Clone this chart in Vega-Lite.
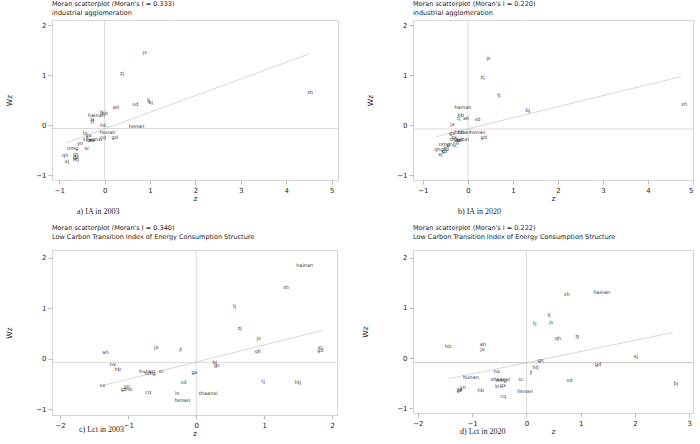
{
  "$schema": "https://vega.github.io/schema/vega-lite/v6.json",
  "background": "white",
  "padding": {"left": 5, "top": 0, "right": 2, "bottom": 2},
  "config": {
    "view": {"stroke": "#d6d6d6", "strokeWidth": 1},
    "axis": {"domain": false, "grid": false, "tickColor": "#bbbbbb", "tickSize": 4, "labelFont": "DejaVu Sans", "labelFontSize": 7, "labelColor": "#222222", "labelPadding": 2, "titleFont": "DejaVu Sans", "titleFontSize": 7.5, "titleFontWeight": "normal", "titleColor": "#222222"},
    "axisY": {"titlePadding": 22},
    "axisX": {"titlePadding": 1},
    "title": {"anchor": "start", "frame": "group", "font": "DejaVu Sans", "fontSize": 6.5, "fontWeight": "normal", "color": "#222222", "subtitleFont": "DejaVu Sans", "subtitleFontSize": 6.5, "subtitleColor": "#222222", "subtitlePadding": 0, "offset": 3},
    "concat": {"spacing": 10}
  },
  "datasets": {
    "means": [
      {"panel": "a", "zbar": 0, "wzbar": -0.07},
      {"panel": "b", "zbar": 0, "wzbar": -0.08},
      {"panel": "c", "zbar": 0, "wzbar": -0.07},
      {"panel": "d", "zbar": 0, "wzbar": -0.09}
    ],
    "fits": [
      {"panel": "a", "z": -0.85, "wz": -0.36}, {"panel": "a", "z": 4.5, "wz": 1.42},
      {"panel": "b", "z": -0.70, "wz": -0.23}, {"panel": "b", "z": 4.74, "wz": 0.97},
      {"panel": "c", "z": -1.35, "wz": -0.52}, {"panel": "c", "z": 1.85, "wz": 0.56},
      {"panel": "d", "z": -1.43, "wz": -0.41}, {"panel": "d", "z": 2.7, "wz": 0.51}
    ],
    "ia2003": [
      {"p": "js", "z": 0.84, "wz": 1.46}, {"p": "zj", "z": 0.34, "wz": 1.05}, {"p": "sh", "z": 4.46, "wz": 0.66},
      {"p": "fj", "z": 0.93, "wz": 0.51}, {"p": "bj", "z": 0.96, "wz": 0.47}, {"p": "sd", "z": 0.61, "wz": 0.42},
      {"p": "ah", "z": 0.18, "wz": 0.36}, {"p": "tj", "z": -0.10, "wz": 0.27}, {"p": "hb", "z": -0.07, "wz": 0.25},
      {"p": "hainan", "z": -0.37, "wz": 0.20}, {"p": "jx", "z": -0.32, "wz": 0.13}, {"p": "jl", "z": -0.30, "wz": 0.09},
      {"p": "hb", "z": -0.10, "wz": 0.01}, {"p": "henan", "z": 0.53, "wz": -0.01}, {"p": "hunan", "z": -0.11, "wz": -0.13},
      {"p": "cq", "z": -0.10, "wz": -0.24}, {"p": "gd", "z": 0.15, "wz": -0.23}, {"p": "ln", "z": -0.48, "wz": -0.15},
      {"p": "gx", "z": -0.42, "wz": -0.19}, {"p": "shaanxi", "z": -0.48, "wz": -0.28}, {"p": "sx", "z": -0.40, "wz": -0.29},
      {"p": "nx", "z": -0.35, "wz": -0.29}, {"p": "yn", "z": -0.61, "wz": -0.35}, {"p": "sc", "z": -0.45, "wz": -0.46},
      {"p": "nmg", "z": -0.83, "wz": -0.46}, {"p": "qh", "z": -0.94, "wz": -0.60}, {"p": "xj", "z": -0.88, "wz": -0.72},
      {"p": "gs", "z": -0.70, "wz": -0.58}, {"p": "gz", "z": -0.70, "wz": -0.63}, {"p": "hlj", "z": -0.70, "wz": -0.67}
    ],
    "ia2020": [
      {"p": "js", "z": 0.41, "wz": 1.34}, {"p": "zj", "z": 0.28, "wz": 0.96}, {"p": "fj", "z": 0.65, "wz": 0.61},
      {"p": "bj", "z": 1.28, "wz": 0.31}, {"p": "sh", "z": 4.74, "wz": 0.43}, {"p": "hainan", "z": -0.30, "wz": 0.36},
      {"p": "hb", "z": -0.23, "wz": 0.21}, {"p": "tj", "z": -0.24, "wz": 0.15}, {"p": "ah", "z": -0.11, "wz": 0.14},
      {"p": "sd", "z": 0.15, "wz": 0.12}, {"p": "jx", "z": -0.39, "wz": 0.02}, {"p": "henan", "z": 0.04, "wz": -0.13},
      {"p": "gd", "z": 0.28, "wz": -0.23}, {"p": "gx", "z": -0.42, "wz": -0.15}, {"p": "hunan", "z": -0.30, "wz": -0.14},
      {"p": "hb", "z": -0.22, "wz": -0.13}, {"p": "sx", "z": -0.37, "wz": -0.23}, {"p": "shaanxi", "z": -0.41, "wz": -0.28},
      {"p": "ln", "z": -0.26, "wz": -0.30}, {"p": "jl", "z": -0.16, "wz": -0.28}, {"p": "nx", "z": -0.30, "wz": -0.30},
      {"p": "cq", "z": -0.33, "wz": -0.33}, {"p": "nmg", "z": -0.65, "wz": -0.38}, {"p": "yn", "z": -0.48, "wz": -0.38},
      {"p": "sc", "z": -0.35, "wz": -0.39}, {"p": "qh", "z": -0.75, "wz": -0.48}, {"p": "gs", "z": -0.61, "wz": -0.48},
      {"p": "gz", "z": -0.58, "wz": -0.51}, {"p": "xj", "z": -0.66, "wz": -0.58}, {"p": "hlj", "z": -0.55, "wz": -0.46}
    ],
    "lct2003": [
      {"p": "hainan", "z": 1.47, "wz": 1.85}, {"p": "sh", "z": 1.28, "wz": 1.42}, {"p": "fj", "z": 0.54, "wz": 1.05},
      {"p": "zj", "z": 0.61, "wz": 0.61}, {"p": "js", "z": 0.89, "wz": 0.42}, {"p": "qh", "z": 0.86, "wz": 0.16},
      {"p": "xj", "z": 1.79, "wz": 0.23}, {"p": "gd", "z": 1.78, "wz": 0.17}, {"p": "ah", "z": -1.38, "wz": 0.13},
      {"p": "jx", "z": -0.62, "wz": 0.23}, {"p": "jl", "z": -0.25, "wz": 0.19}, {"p": "bj", "z": 0.24, "wz": -0.07},
      {"p": "gs", "z": 0.26, "wz": -0.13}, {"p": "nx", "z": -1.27, "wz": -0.11}, {"p": "hb", "z": -1.20, "wz": -0.21},
      {"p": "hunan", "z": -0.84, "wz": -0.24}, {"p": "nmg", "z": -0.76, "wz": -0.28}, {"p": "sc", "z": -0.55, "wz": -0.25},
      {"p": "gx", "z": -0.07, "wz": -0.26}, {"p": "sd", "z": -0.23, "wz": -0.45}, {"p": "tj", "z": 0.96, "wz": -0.44},
      {"p": "hlj", "z": 1.45, "wz": -0.45}, {"p": "sx", "z": -1.42, "wz": -0.52}, {"p": "yn", "z": -1.07, "wz": -0.53},
      {"p": "gz", "z": -1.11, "wz": -0.60}, {"p": "hb", "z": -1.03, "wz": -0.60}, {"p": "cq", "z": -0.75, "wz": -0.65},
      {"p": "ln", "z": -0.31, "wz": -0.68}, {"p": "shaanxi", "z": 0.03, "wz": -0.68}, {"p": "henan", "z": -0.32, "wz": -0.82}
    ],
    "lct2020": [
      {"p": "sh", "z": 0.69, "wz": 1.27}, {"p": "hainan", "z": 1.23, "wz": 1.32}, {"p": "fj", "z": 0.39, "wz": 0.86},
      {"p": "tj", "z": 0.12, "wz": 0.69}, {"p": "js", "z": 0.42, "wz": 0.71}, {"p": "qh", "z": 0.52, "wz": 0.40},
      {"p": "zj", "z": 0.90, "wz": 0.44}, {"p": "xj", "z": 1.98, "wz": 0.04}, {"p": "gd", "z": 1.26, "wz": -0.11},
      {"p": "bj", "z": 2.71, "wz": -0.50}, {"p": "hb", "z": -1.50, "wz": 0.25}, {"p": "ah", "z": -0.86, "wz": 0.28},
      {"p": "jx", "z": -0.85, "wz": 0.19}, {"p": "gs", "z": 0.21, "wz": -0.03}, {"p": "hlj", "z": 0.11, "wz": -0.17},
      {"p": "jl", "z": 0.06, "wz": -0.28}, {"p": "nx", "z": -0.60, "wz": -0.26}, {"p": "hunan", "z": -1.17, "wz": -0.38},
      {"p": "shaanxi", "z": -0.66, "wz": -0.42}, {"p": "nmg", "z": -0.57, "wz": -0.44}, {"p": "sc", "z": -0.15, "wz": -0.42},
      {"p": "sd", "z": 0.74, "wz": -0.44}, {"p": "ln", "z": -0.58, "wz": -0.56}, {"p": "gx", "z": -0.49, "wz": -0.53},
      {"p": "yn", "z": -1.23, "wz": -0.57}, {"p": "gz", "z": -1.29, "wz": -0.63}, {"p": "sx", "z": -1.28, "wz": -0.61},
      {"p": "hb", "z": -0.90, "wz": -0.63}, {"p": "henan", "z": -0.17, "wz": -0.66}, {"p": "cq", "z": -0.48, "wz": -0.76}
    ]
  },
  "columns": 2,
  "spacing": {"row": 8, "column": 22},
  "concat": [
    {
      "title": {"text": "a) IA in 2003", "orient": "bottom", "anchor": "start", "font": "Liberation Serif", "fontSize": 8, "offset": 6, "dx": 25},
      "vconcat": [{
        "width": 286, "height": 160,
        "title": {"text": "Moran scatterplot (Moran's I = 0.333)", "subtitle": "industrial agglomeration"},
        "layer": [
          {"data": {"name": "means"}, "transform": [{"filter": "datum.panel == 'a'"}], "mark": {"type": "rule", "color": "#d0d0d0", "strokeWidth": 0.8},
           "encoding": {"x": {"field": "zbar", "type": "quantitative", "title": "z", "scale": {"domain": [-1.16, 5.14], "nice": false, "zero": false}, "axis": {"values": [-1, 0, 1, 2, 3, 4, 5]}}}},
          {"data": {"name": "means"}, "transform": [{"filter": "datum.panel == 'a'"}], "mark": {"type": "rule", "color": "#d0d0d0", "strokeWidth": 0.8},
           "encoding": {"y": {"field": "wzbar", "type": "quantitative", "title": "Wz", "scale": {"domain": [-1.1, 2.1], "nice": false, "zero": false}, "axis": {"values": [-1, 0, 1, 2]}}}},
          {"data": {"name": "fits"}, "transform": [{"filter": "datum.panel == 'a'"}], "mark": {"type": "line", "color": "#c4c4c4", "strokeWidth": 0.7},
           "encoding": {"x": {"field": "z", "type": "quantitative", "title": "z", "scale": {"domain": [-1.16, 5.14], "nice": false, "zero": false}, "axis": {"values": [-1, 0, 1, 2, 3, 4, 5]}},
                        "y": {"field": "wz", "type": "quantitative", "title": "Wz", "scale": {"domain": [-1.1, 2.1], "nice": false, "zero": false}, "axis": {"values": [-1, 0, 1, 2]}}}},
          {"data": {"name": "ia2003"}, "mark": {"type": "text", "align": "left", "baseline": "middle", "font": "DejaVu Sans", "fontSize": 5, "color": "#333333"},
           "encoding": {"x": {"field": "z", "type": "quantitative", "title": "z", "scale": {"domain": [-1.16, 5.14], "nice": false, "zero": false}, "axis": {"values": [-1, 0, 1, 2, 3, 4, 5]}},
                        "y": {"field": "wz", "type": "quantitative", "title": "Wz", "scale": {"domain": [-1.1, 2.1], "nice": false, "zero": false}, "axis": {"values": [-1, 0, 1, 2]}},
                        "text": {"field": "p"}}}
        ]
      }]
    },
    {
      "title": {"text": "b) IA in 2020", "orient": "bottom", "anchor": "start", "font": "Liberation Serif", "fontSize": 8, "offset": 6, "dx": 45},
      "vconcat": [{
        "width": 280, "height": 160,
        "title": {"text": "Moran scatterplot (Moran's I = 0.220)", "subtitle": "industrial agglomeration"},
        "layer": [
          {"data": {"name": "means"}, "transform": [{"filter": "datum.panel == 'b'"}], "mark": {"type": "rule", "color": "#d0d0d0", "strokeWidth": 0.8},
           "encoding": {"x": {"field": "zbar", "type": "quantitative", "title": "z", "scale": {"domain": [-1.22, 5.0], "nice": false, "zero": false}, "axis": {"values": [-1, 0, 1, 2, 3, 4, 5]}}}},
          {"data": {"name": "means"}, "transform": [{"filter": "datum.panel == 'b'"}], "mark": {"type": "rule", "color": "#d0d0d0", "strokeWidth": 0.8},
           "encoding": {"y": {"field": "wzbar", "type": "quantitative", "title": "Wz", "scale": {"domain": [-1.1, 2.1], "nice": false, "zero": false}, "axis": {"values": [-1, 0, 1, 2]}}}},
          {"data": {"name": "fits"}, "transform": [{"filter": "datum.panel == 'b'"}], "mark": {"type": "line", "color": "#c4c4c4", "strokeWidth": 0.7},
           "encoding": {"x": {"field": "z", "type": "quantitative", "title": "z", "scale": {"domain": [-1.22, 5.0], "nice": false, "zero": false}, "axis": {"values": [-1, 0, 1, 2, 3, 4, 5]}},
                        "y": {"field": "wz", "type": "quantitative", "title": "Wz", "scale": {"domain": [-1.1, 2.1], "nice": false, "zero": false}, "axis": {"values": [-1, 0, 1, 2]}}}},
          {"data": {"name": "ia2020"}, "mark": {"type": "text", "align": "left", "baseline": "middle", "font": "DejaVu Sans", "fontSize": 5, "color": "#333333"},
           "encoding": {"x": {"field": "z", "type": "quantitative", "title": "z", "scale": {"domain": [-1.22, 5.0], "nice": false, "zero": false}, "axis": {"values": [-1, 0, 1, 2, 3, 4, 5]}},
                        "y": {"field": "wz", "type": "quantitative", "title": "Wz", "scale": {"domain": [-1.1, 2.1], "nice": false, "zero": false}, "axis": {"values": [-1, 0, 1, 2]}},
                        "text": {"field": "p"}}}
        ]
      }]
    },
    {
      "title": {"text": "c) Lct in 2003", "orient": "bottom", "anchor": "start", "font": "Liberation Serif", "fontSize": 8, "offset": -11, "dx": 27},
      "vconcat": [{
        "width": 285, "height": 165,
        "title": {"text": "Moran scatterplot (Moran's I = 0.340)", "subtitle": "Low Carbon Transition Index of Energy Consumption Structure", "offset": 9},
        "layer": [
          {"data": {"name": "means"}, "transform": [{"filter": "datum.panel == 'c'"}], "mark": {"type": "rule", "color": "#d0d0d0", "strokeWidth": 0.8},
           "encoding": {"x": {"field": "zbar", "type": "quantitative", "title": "z", "scale": {"domain": [-2.12, 2.07], "nice": false, "zero": false}, "axis": {"values": [-2, -1, 0, 1, 2]}}}},
          {"data": {"name": "means"}, "transform": [{"filter": "datum.panel == 'c'"}], "mark": {"type": "rule", "color": "#d0d0d0", "strokeWidth": 0.8},
           "encoding": {"y": {"field": "wzbar", "type": "quantitative", "title": "Wz", "scale": {"domain": [-1.11, 2.15], "nice": false, "zero": false}, "axis": {"values": [-1, 0, 1, 2]}}}},
          {"data": {"name": "fits"}, "transform": [{"filter": "datum.panel == 'c'"}], "mark": {"type": "line", "color": "#c4c4c4", "strokeWidth": 0.7},
           "encoding": {"x": {"field": "z", "type": "quantitative", "title": "z", "scale": {"domain": [-2.12, 2.07], "nice": false, "zero": false}, "axis": {"values": [-2, -1, 0, 1, 2]}},
                        "y": {"field": "wz", "type": "quantitative", "title": "Wz", "scale": {"domain": [-1.11, 2.15], "nice": false, "zero": false}, "axis": {"values": [-1, 0, 1, 2]}}}},
          {"data": {"name": "lct2003"}, "mark": {"type": "text", "align": "left", "baseline": "middle", "font": "DejaVu Sans", "fontSize": 5, "color": "#333333"},
           "encoding": {"x": {"field": "z", "type": "quantitative", "title": "z", "scale": {"domain": [-2.12, 2.07], "nice": false, "zero": false}, "axis": {"values": [-2, -1, 0, 1, 2]}},
                        "y": {"field": "wz", "type": "quantitative", "title": "Wz", "scale": {"domain": [-1.11, 2.15], "nice": false, "zero": false}, "axis": {"values": [-1, 0, 1, 2]}},
                        "text": {"field": "p"}}}
        ]
      }]
    },
    {
      "title": {"text": "d) Lct in 2020", "orient": "bottom", "anchor": "start", "font": "Liberation Serif", "fontSize": 8, "offset": -7, "dx": 47},
      "vconcat": [{
        "width": 280, "height": 163,
        "title": {"text": "Moran scatterplot (Moran's I = 0.222)", "subtitle": "Low Carbon Transition Index of Energy Consumption Structure", "offset": 9},
        "layer": [
          {"data": {"name": "means"}, "transform": [{"filter": "datum.panel == 'd'"}], "mark": {"type": "rule", "color": "#d0d0d0", "strokeWidth": 0.8},
           "encoding": {"x": {"field": "zbar", "type": "quantitative", "title": "z", "scale": {"domain": [-2.09, 3.07], "nice": false, "zero": false}, "axis": {"values": [-2, -1, 0, 1, 2, 3]}}}},
          {"data": {"name": "means"}, "transform": [{"filter": "datum.panel == 'd'"}], "mark": {"type": "rule", "color": "#d0d0d0", "strokeWidth": 1.2},
           "encoding": {"y": {"field": "wzbar", "type": "quantitative", "title": "Wz", "scale": {"domain": [-1.09, 2.15], "nice": false, "zero": false}, "axis": {"values": [-1, 0, 1, 2], "titlePadding": 27}}}},
          {"data": {"name": "fits"}, "transform": [{"filter": "datum.panel == 'd'"}], "mark": {"type": "line", "color": "#c4c4c4", "strokeWidth": 0.7},
           "encoding": {"x": {"field": "z", "type": "quantitative", "title": "z", "scale": {"domain": [-2.09, 3.07], "nice": false, "zero": false}, "axis": {"values": [-2, -1, 0, 1, 2, 3]}},
                        "y": {"field": "wz", "type": "quantitative", "title": "Wz", "scale": {"domain": [-1.09, 2.15], "nice": false, "zero": false}, "axis": {"values": [-1, 0, 1, 2], "titlePadding": 27}}}},
          {"data": {"name": "lct2020"}, "mark": {"type": "text", "align": "left", "baseline": "middle", "font": "DejaVu Sans", "fontSize": 5, "color": "#333333"},
           "encoding": {"x": {"field": "z", "type": "quantitative", "title": "z", "scale": {"domain": [-2.09, 3.07], "nice": false, "zero": false}, "axis": {"values": [-2, -1, 0, 1, 2, 3]}},
                        "y": {"field": "wz", "type": "quantitative", "title": "Wz", "scale": {"domain": [-1.09, 2.15], "nice": false, "zero": false}, "axis": {"values": [-1, 0, 1, 2], "titlePadding": 27}},
                        "text": {"field": "p"}}}
        ]
      }]
    }
  ]
}
